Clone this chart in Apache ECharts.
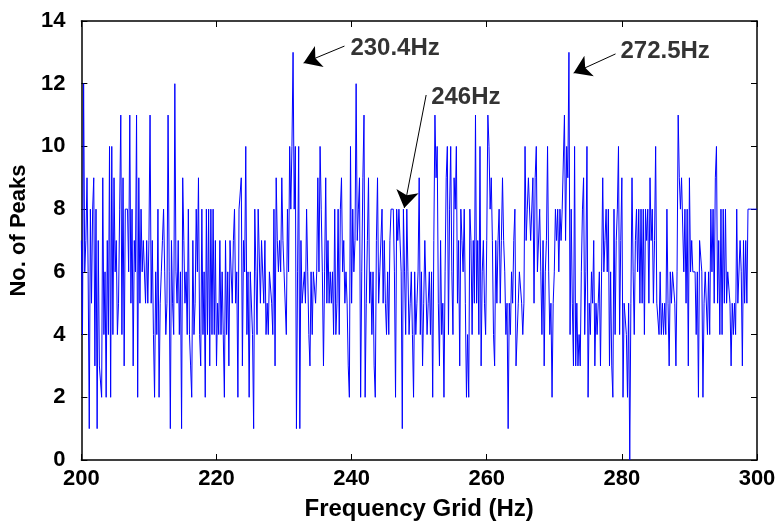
<!DOCTYPE html>
<html>
<head>
<meta charset="utf-8">
<script src="https://cdn.jsdelivr.net/npm/echarts@6/dist/echarts.min.js"></script>
<style>
  html, body { margin: 0; padding: 0; background: #ffffff; }
  #chart { width: 781px; height: 527px; }
</style>
</head>
<body>
<div id="chart"></div>
<script>
// Frequency grid: 200 Hz to 300 Hz in 1/6 Hz steps (601 bins)
const gridStartHz = 200;
const gridStepHz = 1 / 6;

// Number of detected peaks falling in each grid bin
const peakCounts = [
  // 200 - 210 Hz
  7,4,12,6,7,9,6,1,8,5,8,9,3,8,1,7,3,3,2,9,4,6,2,7,4,10,2,10,4,9,
  6,7,4,5,8,11,4,9,3,8,8,8,6,11,5,8,3,7,6,11,2,9,5,8,6,7,7,5,7,5,
  // 210 - 224.3 Hz
  7,11,5,7,4,2,6,4,8,2,5,6,7,8,6,4,5,11,6,1,7,5,4,12,6,5,7,4,6,1,
  9,7,5,6,4,8,4,3,2,7,4,5,8,6,9,4,3,8,4,6,2,8,4,8,3,8,4,8,4,7,
  3,5,4,7,4,6,4,2,7,4,6,3,7,7,5,7,8,5,6,2,8,8,9,3,7,6,
  // 224.3 - 238.3 Hz
  10,4,6,2,6,6,4,1,8,6,4,8,8,5,7,7,5,7,4,5,4,6,6,5,4,8,3,9,7,6,
  7,6,9,7,6,6,4,8,6,10,8,10,13,8,10,1,6,10,1,7,5,5,6,5,8,6,4,3,6,4,
  6,6,5,6,9,6,10,8,6,3,6,9,5,7,5,6,5,6,4,8,4,5,8,4,
  // 238.3 - 252.3 Hz
  8,9,6,7,5,6,5,3,2,10,5,8,6,7,12,7,8,9,2,6,9,11,2,5,7,9,5,6,4,6,
  3,2,7,9,5,6,6,8,5,7,5,4,6,4,7,8,8,8,6,2,8,7,8,8,6,1,8,6,4,8,
  6,4,5,6,4,2,6,4,5,6,9,4,6,3,5,7,7,4,5,6,4,6,2,7,
  // 252.3 - 266.3 Hz
  11,9,10,5,3,7,4,5,2,6,9,10,4,8,10,6,4,9,8,10,5,7,3,8,7,6,8,5,2,4,
  2,8,7,4,7,5,11,5,7,4,10,3,6,7,5,4,7,11,10,8,9,7,4,3,7,5,7,8,5,7,
  9,7,6,4,5,1,5,4,6,5,7,8,3,3,5,6,6,5,4,5,10,7,8,9,
  // 266.3 - 280.2 Hz
  9,7,7,9,5,9,10,6,6,8,6,4,7,3,6,7,10,6,4,5,2,5,6,8,7,8,6,8,7,8,
  8,11,7,10,9,13,4,8,5,3,10,3,5,3,4,3,6,8,9,4,6,10,2,5,4,6,5,7,3,5,
  4,5,6,3,6,9,6,7,8,6,8,3,6,3,2,8,4,7,8,10,4,7,9,
  // 280.2 - 294.2 Hz
  2,5,5,4,2,5,0,5,9,6,4,7,8,6,8,5,8,5,8,4,8,7,8,5,9,7,8,5,7,10,
  5,5,4,6,4,5,4,5,4,8,5,3,6,5,6,6,5,3,6,11,9,8,9,9,6,8,5,8,3,9,
  6,7,6,6,6,4,6,2,7,7,6,2,5,6,6,4,6,4,8,6,8,5,9,10,
  // 294.2 - 300 Hz
  5,7,4,8,4,8,5,8,5,6,6,5,3,5,4,5,4,8,5,5,7,6,3,7,5,7,5,8,8,8,
  8,8,8,8,8,8
];

// Axis ticks
const freqTicks = [200, 220, 240, 260, 280, 300];
const countTicks = [0, 2, 4, 6, 8, 10, 12, 14];

// Callouts: label, arrow tail, arrow tip and text anchor in data units
const callouts = [
  { text: '230.4Hz', tail: [238.94, 13.20], tip: [232.89, 12.66], anchor: [239.82, 13.14] },
  { text: '246Hz',   tail: [251.03, 11.64], tip: [247.79, 8.04],  anchor: [251.77, 11.58] },
  { text: '272.5Hz', tail: [279.06, 12.95], tip: [272.86, 12.34], anchor: [279.79, 13.04] }
];

const seriesData = peakCounts.map((v, i) => [gridStartHz + i * gridStepHz, v]);

const FONT = '"Liberation Sans", Arial, Helvetica, sans-serif';
const textBold = { color: '#000', fontSize: 22, fontWeight: 'bold', fontFamily: FONT };

const axisLineStyle = { color: '#000', width: 1.5 };
const tickStyle = { inside: true, length: 6, lineStyle: { color: '#000', width: 1 } };

function xAxisCfg(pos, withLabels) {
  return {
    type: 'value',
    position: pos,
    min: freqTicks[0],
    max: freqTicks[freqTicks.length - 1],
    interval: freqTicks[1] - freqTicks[0],
    axisLine: { show: true, onZero: false, lineStyle: axisLineStyle },
    axisTick: tickStyle,
    axisLabel: withLabels ? Object.assign({ margin: 8 }, textBold) : { show: false },
    splitLine: { show: false },
    name: withLabels ? 'Frequency Grid (Hz)' : '',
    nameLocation: 'middle',
    nameGap: 37,
    nameTextStyle: Object.assign({}, textBold, { fontSize: 24 })
  };
}

function yAxisCfg(pos, withLabels) {
  return {
    type: 'value',
    position: pos,
    min: countTicks[0],
    max: countTicks[countTicks.length - 1],
    interval: countTicks[1] - countTicks[0],
    axisLine: { show: true, onZero: false, lineStyle: axisLineStyle },
    axisTick: tickStyle,
    axisLabel: withLabels ? Object.assign({ margin: 16 }, textBold) : { show: false },
    splitLine: { show: false },
    name: withLabels ? 'No. of Peaks' : '',
    nameLocation: 'middle',
    nameRotate: 90,
    nameGap: 41,
    // left padding lifts the rotated title slightly above the axis midpoint
    nameTextStyle: Object.assign({}, textBold, { fontSize: 22, padding: [0, 0, 0, 20] })
  };
}

const chart = echarts.init(document.getElementById('chart'), null, { renderer: 'canvas' });

chart.setOption({
  animation: false,
  backgroundColor: '#ffffff',
  grid: { left: 79, right: 24, top: 21, bottom: 67, containLabel: false },
  xAxis: [xAxisCfg('bottom', true), xAxisCfg('top', false)],
  yAxis: [yAxisCfg('left', true), yAxisCfg('right', false)],
  series: [
    {
      type: 'line',
      xAxisIndex: 0,
      yAxisIndex: 0,
      data: seriesData,
      showSymbol: false,
      symbol: 'none',
      lineStyle: { color: '#0000ff', width: 1 },
      silent: true,
      z: 2
    },
    {
      type: 'lines',
      coordinateSystem: 'cartesian2d',
      xAxisIndex: 0,
      yAxisIndex: 0,
      data: callouts.map(c => ({ coords: [c.tail, c.tip] })),
      symbol: ['none', 'arrow'],
      symbolSize: [11, 17],
      lineStyle: { color: '#000', width: 1, opacity: 1, curveness: 0 },
      silent: true,
      z: 4
    },
    {
      type: 'scatter',
      xAxisIndex: 0,
      yAxisIndex: 0,
      data: callouts.map(c => ({ name: c.text, value: c.anchor })),
      symbolSize: 0,
      label: Object.assign({
        show: true,
        position: 'right',
        distance: 0,
        formatter: '{b}'
      }, textBold, { fontSize: 24 }),
      silent: true,
      z: 5
    }
  ]
});
</script>
</body>
</html>
